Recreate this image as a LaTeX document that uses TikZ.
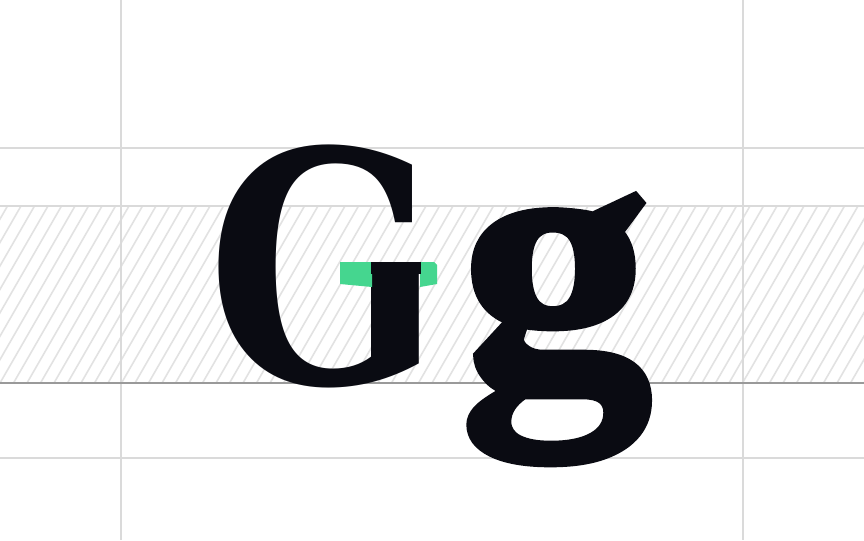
\documentclass[tikz,border=0pt]{standalone}
\usepackage{fontspec}
\setmainfont{DejaVu Serif}
\newfontfamily\gfont[FakeBold=2]{Liberation Serif}
\usetikzlibrary{positioning}
\definecolor{gridgray}{HTML}{DADADA}
\definecolor{basegray}{HTML}{9A9A9A}
\definecolor{hatchgray}{HTML}{E2E2E2}
\definecolor{inkblack}{HTML}{0A0B12}
\definecolor{serifgreen}{HTML}{45D68F}
\tikzset{
    gridline/.style = {
        draw=gridgray, line width=1.3pt
    },
    baseline/.style = {
        draw=basegray, line width=1.3pt
    },
    hatchline/.style = {
        draw=hatchgray, line width=0.9pt
    },
    glyph/.style = {
        inner sep=0pt, outer sep=0pt, anchor=base,
        text=inkblack
    }
}

\begin{document}
\begin{tikzpicture}[x=0.02cm, y=-0.02cm]

\fill[white] (0,0) rectangle (864,540);
\useasboundingbox (0,0) rectangle (864,540);

% hatched x-height band
\begin{scope}
    \clip (0,206) rectangle (864,383);
    \foreach \i in {-10,...,66}
        \draw[hatchline] (\i*13.5,383) -- ++(102,-177);
\end{scope}

% metric lines
\draw[gridline] (121,0) -- (121,540);
\draw[gridline] (743,0) -- (743,540);
\draw[gridline] (0,148) -- (864,148);
\draw[gridline] (0,206) -- (864,206);
\draw[gridline] (0,458) -- (864,458);
\draw[baseline] (0,383) -- (864,383);

% letters (G without its own crossbar serif)
\begin{scope}
    \clip (0,0) rectangle (340,540) (0,0) rectangle (864,262)
          (0,302) rectangle (864,540) (438,0) rectangle (864,540)
          (371,0) rectangle (421,540);
    \node (capG) [glyph, xscale=0.85, font=\fontsize{183}{200}\bfseries\selectfont] at (324,383) {G};
\end{scope}
\node (smallg) [glyph, xscale=1.05, font=\fontsize{208}{230}\gfont\bfseries\selectfont] at (556,383) {g};

% highlighted serif of G, stem kept black
\fill[serifgreen] (340,262) -- (372,262) -- (372,287) -- (340,284) -- cycle;
\fill[serifgreen] (420,262) -- (434,262) -- (437,265) -- (437,284) -- (420,287) -- cycle;
\fill[inkblack] (371,262) rectangle (421,274);

\end{tikzpicture}
\end{document}
